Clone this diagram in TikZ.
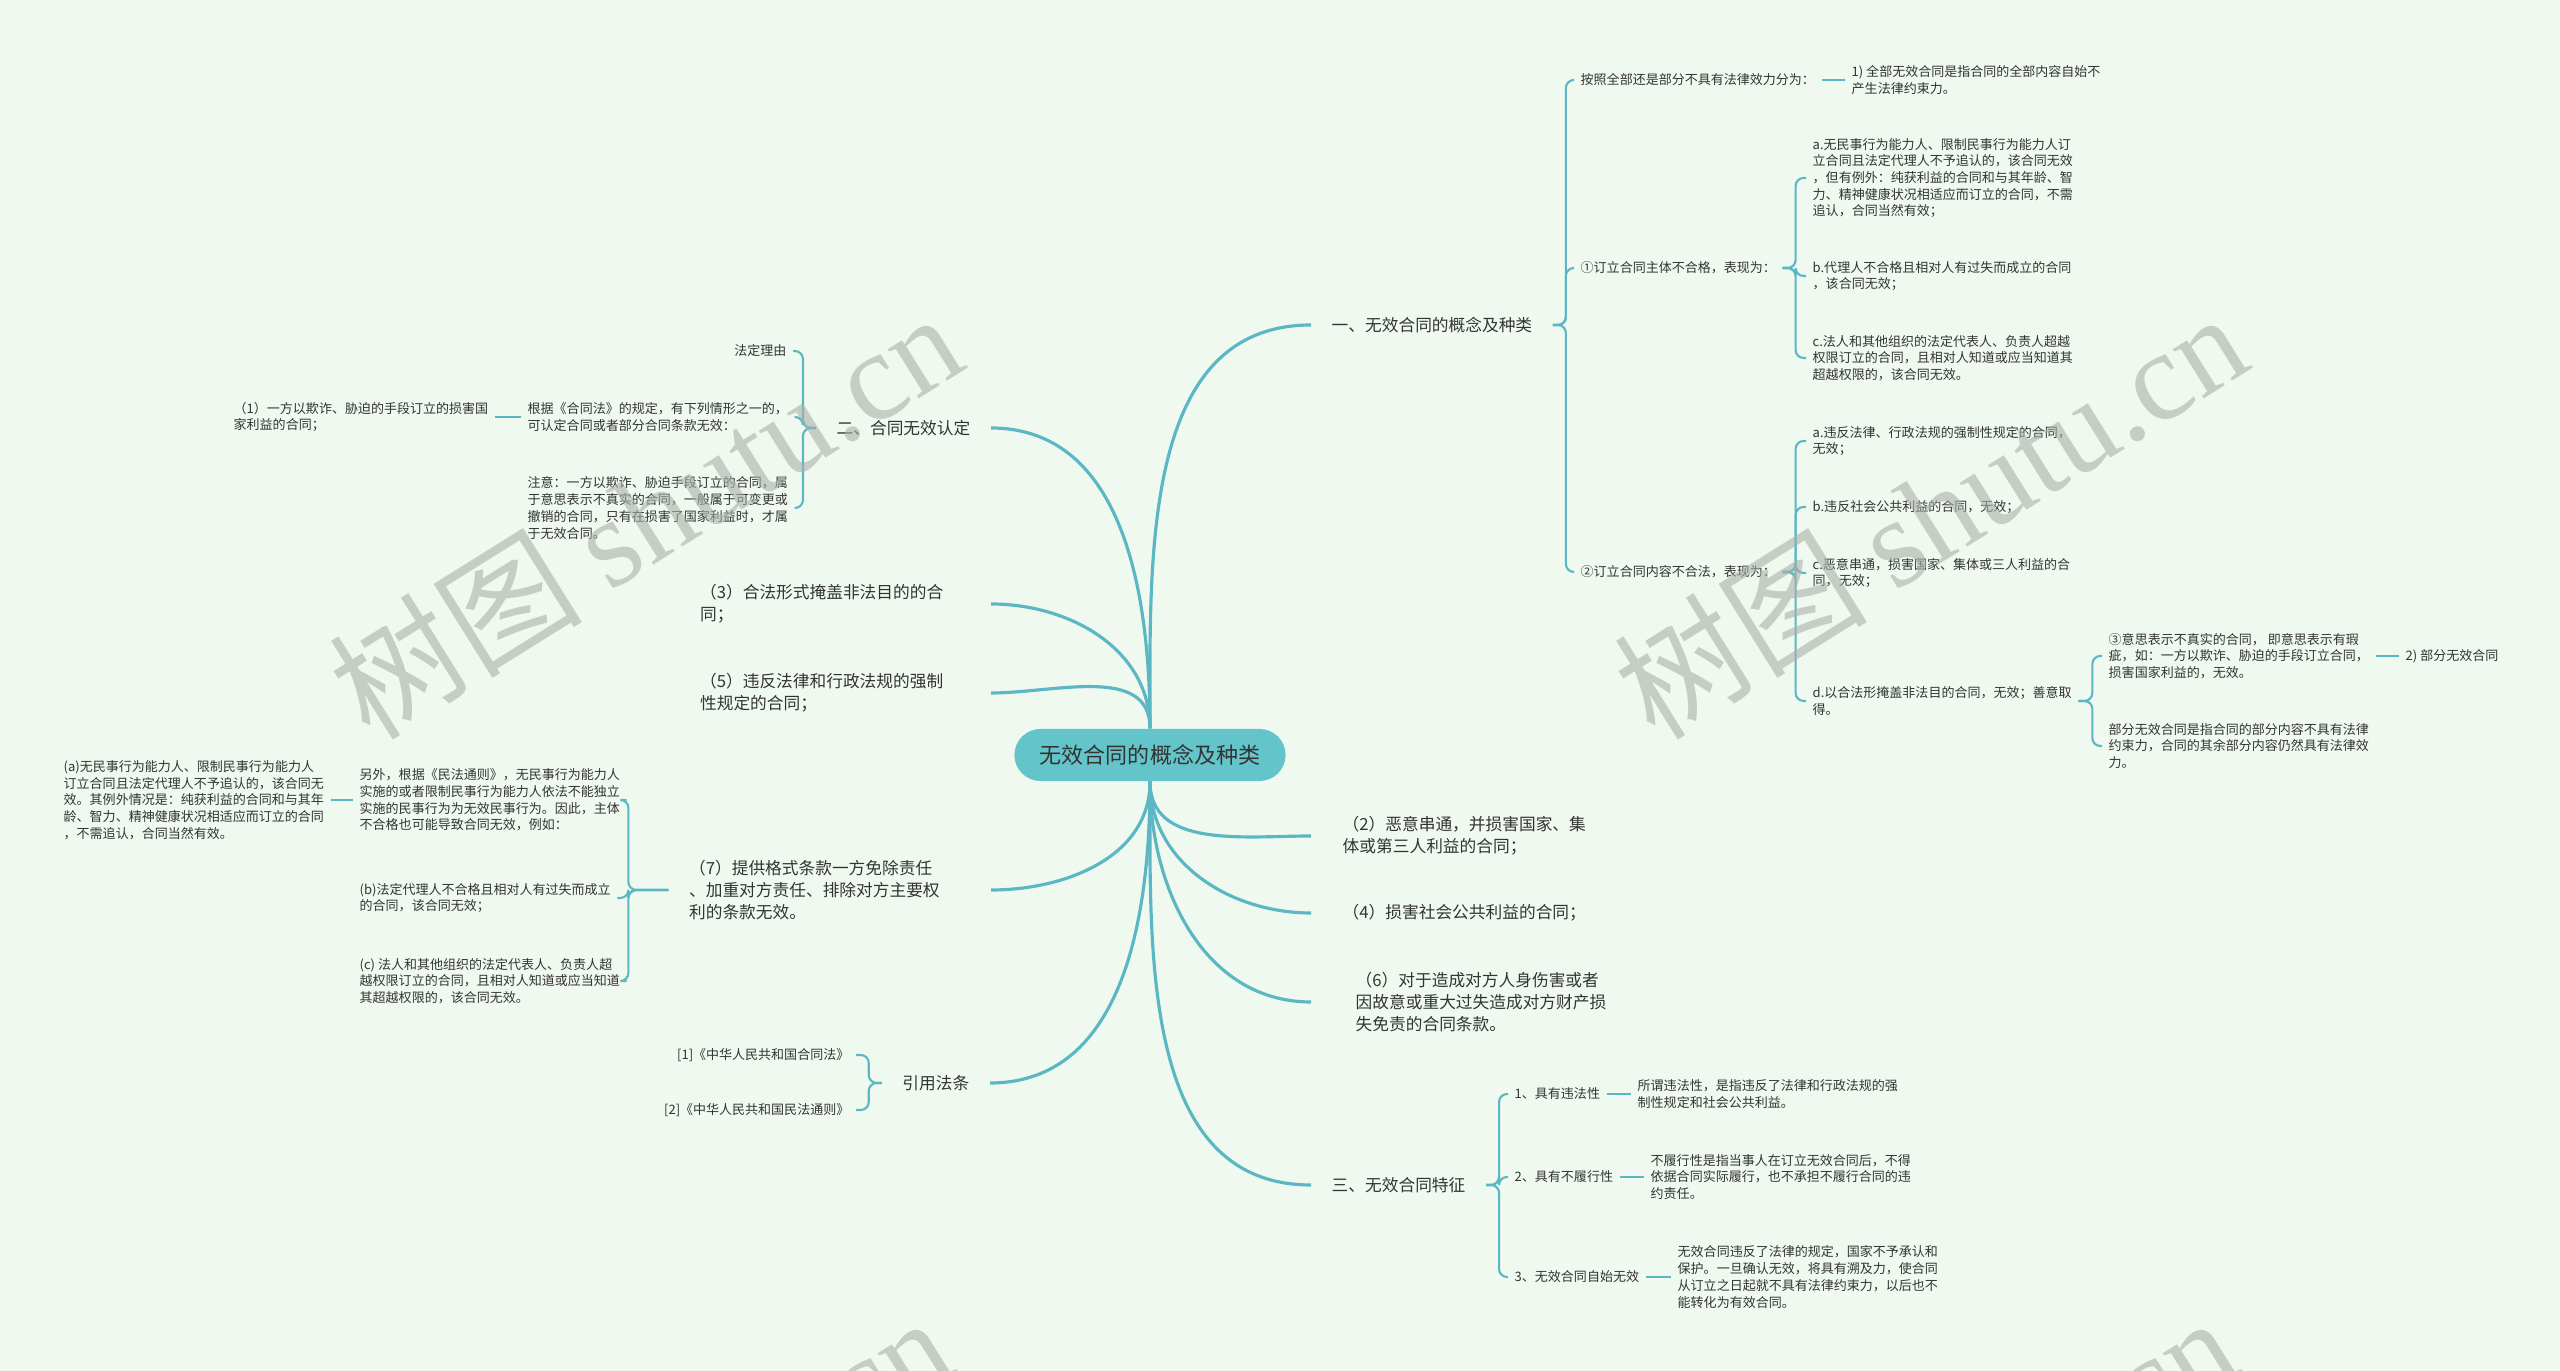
\documentclass[tikz,border=0pt]{standalone}
\usepackage{fontspec}
\setmainfont{Noto Sans CJK SC}
\newfontfamily\wmfont{Liberation Serif}
\definecolor{bgc}{HTML}{F0F9EF}
\definecolor{linec}{HTML}{5BB7C3}
\definecolor{hubc}{HTML}{63C5C9}
\definecolor{ink}{HTML}{333333}
\definecolor{wmc}{HTML}{A9B0A9}

\begin{document}
\begin{tikzpicture}[
          x=0.01cm, y=-0.01cm,
          hub/.style={fill=hubc, rounded corners=0.26cm, minimum width=2.71cm,
                      minimum height=0.52cm, text=ink, font=\fontsize{6.26pt}{7pt}\selectfont},
          topic/.style={text=ink, align=left, inner xsep=0.2cm, inner ysep=0.05cm,
                        font=\fontsize{4.75pt}{6.26pt}\selectfont},
          leaf/.style={text=ink, align=left, inner xsep=0.06cm, inner ysep=0.03cm,
                       font=\fontsize{3.7pt}{4.75pt}\selectfont},
          link/.style={draw=linec, line width=0.9pt},
          brace/.style={draw=linec, line width=0.6pt, rounded corners=0.08cm},
          wm/.style={text=wmc, opacity=0.6, rotate=32, font=\fontsize{36pt}{36pt}\selectfont}
        ]
        \useasboundingbox (0,0) rectangle (2560,1371);
        \fill[bgc] (0,0) rectangle (2560,1371);

        \node[hub] (root) at (1150,755) {无效合同的概念及种类};

        \node[topic, anchor=west] (kind) at (1311,325) {一、无效合同的概念及种类};
        \node[topic, anchor=east] (judge) at (991,428) {二、合同无效认定};
        \node[topic, anchor=east, text width=2.7cm] (c3) at (991,604) {（3）合法形式掩盖非法目的的合\\同；};
        \node[topic, anchor=east, text width=2.7cm] (c5) at (991,693) {（5）违反法律和行政法规的强制\\性规定的合同；};
        \node[topic, anchor=east, text width=2.81cm] (c7) at (991,890) {（7）提供格式条款一方免除责任\\、加重对方责任、排除对方主要权\\利的条款无效。};
        \node[topic, anchor=east] (cite) at (990,1083) {引用法条};
        \node[topic, anchor=west, inner xsep=0.31cm] (c2) at (1311,836) {（2）恶意串通，并损害国家、集\\体或第三人利益的合同；};
        \node[topic, anchor=west, inner xsep=0.31cm] (c4) at (1311,913) {（4）损害社会公共利益的合同；};
        \node[topic, anchor=west, inner xsep=0.44cm] (c6) at (1311,1002) {（6）对于造成对方人身伤害或者\\因故意或重大过失造成对方财产损\\失免责的合同条款。};
        \node[topic, anchor=west] (trait) at (1311,1185) {三、无效合同特征};

        \node[leaf, anchor=west] (k1) at (1574,80) {按照全部还是部分不具有法律效力分为：};
        \node[leaf, anchor=west] (k1a) at (1845,80) {1) 全部无效合同是指合同的全部内容自始不\\产生法律约束力。};
        \node[leaf, anchor=west] (kA) at (1574,268) {①订立合同主体不合格，表现为：};
        \node[leaf, anchor=west] (kAa) at (1806,178) {a.无民事行为能力人、限制民事行为能力人订\\立合同且法定代理人不予追认的，该合同无效\\，但有例外：纯获利益的合同和与其年龄、智\\力、精神健康状况相适应而订立的合同，不需\\追认，合同当然有效；};
        \node[leaf, anchor=west] (kAb) at (1806,276) {b.代理人不合格且相对人有过失而成立的合同\\，该合同无效；};
        \node[leaf, anchor=west] (kAc) at (1806,358) {c.法人和其他组织的法定代表人、负责人超越\\权限订立的合同，且相对人知道或应当知道其\\超越权限的，该合同无效。};
        \node[leaf, anchor=west] (kB) at (1574,572) {②订立合同内容不合法，表现为：};
        \node[leaf, anchor=west] (kBa) at (1806,441) {a.违反法律、行政法规的强制性规定的合同，\\无效；};
        \node[leaf, anchor=west] (kBb) at (1806,507) {b.违反社会公共利益的合同，无效；};
        \node[leaf, anchor=west] (kBc) at (1806,573) {c.恶意串通，损害国家、集体或三人利益的合\\同，无效；};
        \node[leaf, anchor=west] (kBd) at (1806,701) {d.以合法形掩盖非法目的合同，无效；善意取\\得。};
        \node[leaf, anchor=west] (kBd1) at (2102,656) {③意思表示不真实的合同， 即意思表示有瑕\\疵，如：一方以欺诈、胁迫的手段订立合同，\\损害国家利益的，无效。};
        \node[leaf, anchor=west] (kBd1a) at (2399,656) {2) 部分无效合同};
        \node[leaf, anchor=west] (kBd2) at (2102,746) {部分无效合同是指合同的部分内容不具有法律\\约束力，合同的其余部分内容仍然具有法律效\\力。};

        \node[leaf, anchor=east] (j1) at (793,351) {法定理由};
        \node[leaf, anchor=west] (j2) at (521,417) {根据《合同法》的规定，有下列情形之一的，\\可认定合同或者部分合同条款无效：};
        \node[leaf, anchor=west] (j2a) at (227,417) {（1）一方以欺诈、胁迫的手段订立的损害国\\家利益的合同；};
        \node[leaf, anchor=west] (j3) at (521,508) {注意：一方以欺诈、胁迫手段订立的合同，属\\于意思表示不真实的合同，一般属于可变更或\\撤销的合同，只有在损害了国家利益时，才属\\于无效合同。};

        \node[leaf, anchor=west] (c7x) at (353,800) {另外，根据《民法通则》，无民事行为能力人\\实施的或者限制民事行为能力人依法不能独立\\实施的民事行为为无效民事行为。因此，主体\\不合格也可能导致合同无效，例如：};
        \node[leaf, anchor=west] (c7a) at (57,800) {(a)无民事行为能力人、限制民事行为能力人\\订立合同且法定代理人不予追认的，该合同无\\效。其例外情况是：纯获利益的合同和与其年\\龄、智力、精神健康状况相适应而订立的合同\\，不需追认，合同当然有效。};
        \node[leaf, anchor=west] (c7b) at (353,898) {(b)法定代理人不合格且相对人有过失而成立\\的合同，该合同无效；};
        \node[leaf, anchor=west] (c7c) at (353,981) {(c) 法人和其他组织的法定代表人、负责人超\\越权限订立的合同，且相对人知道或应当知道\\其超越权限的，该合同无效。};

        \node[leaf, anchor=east] (r1) at (856,1055) {[1]《中华人民共和国合同法》};
        \node[leaf, anchor=east] (r2) at (856,1110) {[2]《中华人民共和国民法通则》};

        \node[leaf, anchor=west] (t1) at (1508,1094) {1、具有违法性};
        \node[leaf, anchor=west] (t1a) at (1631,1094) {所谓违法性，是指违反了法律和行政法规的强\\制性规定和社会公共利益。};
        \node[leaf, anchor=west] (t2) at (1508,1177) {2、具有不履行性};
        \node[leaf, anchor=west] (t2a) at (1644,1177) {不履行性是指当事人在订立无效合同后，不得\\依据合同实际履行，也不承担不履行合同的违\\约责任。};
        \node[leaf, anchor=west] (t3) at (1508,1277) {3、无效合同自始无效};
        \node[leaf, anchor=west] (t3a) at (1671,1277) {无效合同违反了法律的规定，国家不予承认和\\保护。一旦确认无效，将具有溯及力，使合同\\从订立之日起就不具有法律约束力，以后也不\\能转化为有效合同。};

        \foreach \side/\dest/\tip/\dy/\dx in {north/kind/west/-170/-170, north/judge/east/-133/133,
            north/c3/east/-79/79, north/c5/east/-64/64, south/c2/west/67/-67, south/c4/west/81/-81,
            south/c6/west/107/-107, south/trait/west/170/-170, south/c7/east/75/75, south/cite/east/134/134}
          \draw[link] (root.\side) .. controls +(0,\dy) and +(\dx,0) .. (\dest.\tip);

        \foreach \c in {k1,kA,kB} \draw[brace] (kind.east) -- ++(13,0) |- (\c.west);
        \foreach \c in {kAa,kAb,kAc} \draw[brace] (kA.east) -- ++(13,0) |- (\c.west);
        \foreach \c in {kBa,kBb,kBc,kBd} \draw[brace] (kB.east) -- ++(13,0) |- (\c.west);
        \foreach \c in {kBd1,kBd2} \draw[brace] (kBd.east) -- ++(14,0) |- (\c.west);
        \draw[brace] (k1.east) -- (k1a.west);
        \draw[brace] (kBd1.east) -- (kBd1a.west);
        \foreach \c in {j1,j2,j3} \draw[brace] (judge.west) -- ++(-13,0) |- (\c.east);
        \draw[brace] (j2.west) -- (j2a.east);
        \foreach \c in {c7x,c7b,c7c} \draw[brace] (c7.west) -- ++(-40,0) |- (\c.east);
        \draw[brace] (c7x.west) -- (c7a.east);
        \foreach \c in {r1,r2} \draw[brace] (cite.west) -- ++(-13,0) |- (\c.east);
        \foreach \c in {t1,t2,t3} \draw[brace] (trait.east) -- ++(13,0) |- (\c.west);
        \draw[brace] (t1.east) -- (t1a.west);
        \draw[brace] (t2.east) -- (t2a.west);
        \draw[brace] (t3.east) -- (t3a.west);

        \begin{scope}
          \clip (0,0) rectangle (2560,1371);
          \node[wm] (wm1) at (645,514) {树图 {\wmfont shutu.cn}};
          \node[wm] (wm2) at (1930,514) {树图 {\wmfont shutu.cn}};
          \node[wm] (wm3) at (635,1518) {树图 {\wmfont shutu.cn}};
          \node[wm] (wm4) at (1920,1518) {树图 {\wmfont shutu.cn}};
        \end{scope}
      \end{tikzpicture}
\end{document}
